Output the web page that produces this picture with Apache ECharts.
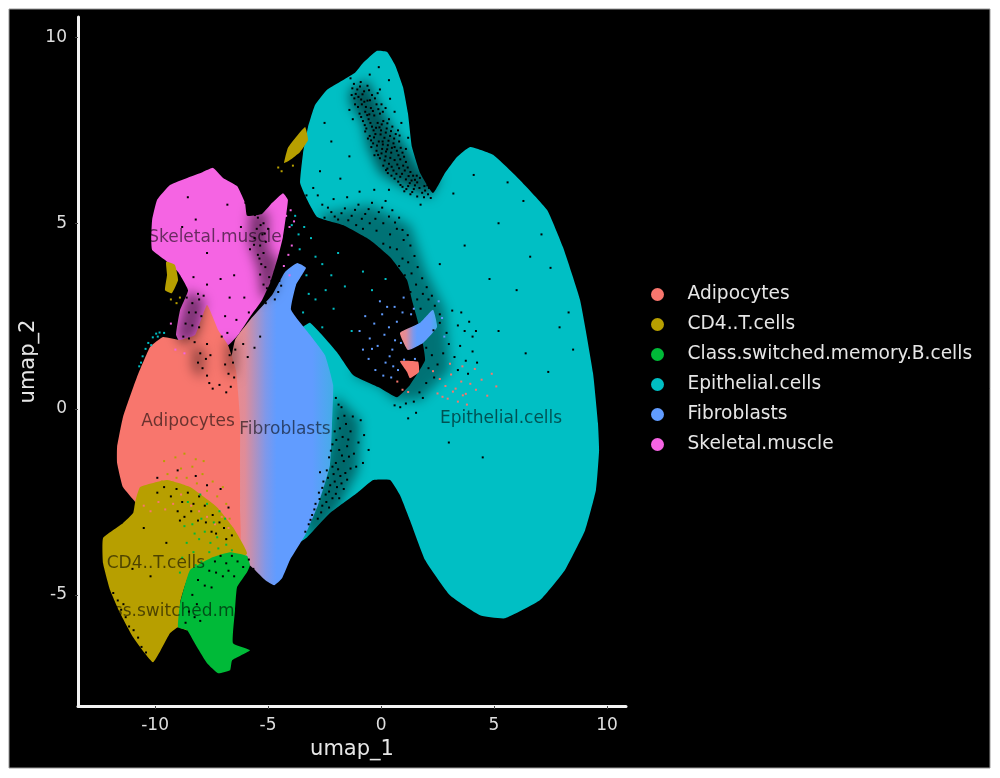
<!DOCTYPE html>
<html>
<head>
<meta charset="utf-8">
<style>
  html, body { margin: 0; background: #fff; }
  #main { width: 1000px; height: 778px; }
</style>
<script src="https://cdn.jsdelivr.net/npm/echarts@6/dist/echarts.min.js"></script>
</head>
<body>
<div id="main"></div>
<script>
const clusterNames = ['Adipocytes', 'CD4..T.cells', 'Class.switched.memory.B.cells', 'Epithelial.cells', 'Fibroblasts', 'Skeletal.muscle'];
const clusterColors = ['#F8766D', '#B79F00', '#00BA38', '#00BFC4', '#619CFF', '#F564E3'];
const xTicks = [-10, -5, 0, 5, 10];
const yTicks = [-5, 0, 5, 10];

// cluster label positions (umap_1, umap_2)
const labelX = [-8.54, -9.96, -7.26, 5.31, -4.25, -7.35];
const labelY = [-0.35, -4.17, -5.46, -0.25, -0.54, 4.61];

// outlines of the dense part of each cluster
const adipocyteOutlines = [
  [[-7.70,2.80],[-7.21,2.13],[-6.77,1.72],[-6.42,1.05],[-6.24,-0.30],[-6.24,-1.64],[-6.24,-2.72],[-6.24,-3.66],[-7.35,-3.53],[-8.45,-2.99],[-9.34,-2.45],[-10.66,-2.72],[-10.88,-2.50],[-11.42,-2.10],[-11.68,-1.45],[-11.68,-1.02],[-11.42,-0.22],[-10.80,0.86],[-10.22,1.67],[-9.65,1.94],[-8.89,1.86],[-8.23,1.99]],
  [[0.84,1.29],[1.64,1.27],[1.68,1.00],[1.28,0.83],[1.15,1.00]]
];
const cd4Outlines = [
  [[-10.88,-2.50],[-10.97,-2.80],[-11.42,-3.07],[-12.30,-3.47],[-12.30,-4.15],[-11.99,-4.87],[-11.55,-5.49],[-10.97,-6.14],[-10.09,-6.81],[-9.34,-6.03],[-8.98,-5.87],[-8.58,-5.95],[-8.89,-5.22],[-8.45,-4.41],[-7.43,-4.25],[-6.68,-4.25],[-5.93,-3.88],[-6.55,-3.18],[-7.26,-2.64],[-8.45,-2.10],[-9.47,-1.91],[-10.66,-2.10]],
  [[-9.51,3.96],[-9.12,3.88],[-8.98,3.47],[-9.25,3.12],[-9.56,3.20],[-9.47,3.61]],
  [[-3.36,7.59],[-3.23,7.24],[-3.58,6.92],[-4.03,6.70],[-4.29,6.62],[-4.12,7.03],[-3.76,7.32]]
];
const bcellOutlines = [
  [[-8.45,-4.33],[-7.43,-3.98],[-6.68,-3.85],[-5.93,-3.95],[-5.80,-4.20],[-5.93,-4.39],[-6.37,-4.79],[-6.46,-5.41],[-6.55,-6.30],[-5.80,-6.49],[-6.59,-6.76],[-6.68,-7.03],[-7.21,-7.11],[-7.70,-6.84],[-8.14,-6.41],[-8.58,-5.95],[-8.98,-5.87],[-8.89,-5.22]]
];
const epithelialOutlines = [
  [[-2.83,5.17],[-3.27,5.63],[-3.58,6.08],[-3.45,6.89],[-3.23,7.59],[-2.92,8.18],[-2.39,8.59],[-1.15,9.05],[-0.80,9.31],[-0.18,9.64],[0.27,9.61],[0.62,9.26],[0.97,8.67],[1.19,7.97],[1.37,7.05],[1.73,6.35],[2.30,5.81],[2.83,6.35],[3.36,6.78],[3.94,7.05],[4.96,6.84],[6.15,6.16],[7.35,5.36],[8.05,4.36],[8.81,2.93],[9.38,0.97],[9.60,-0.38],[9.65,-1.10],[9.51,-2.18],[9.03,-3.26],[8.14,-4.33],[7.04,-5.14],[5.49,-5.63],[4.38,-5.55],[3.05,-5.01],[1.95,-4.06],[1.28,-2.99],[0.84,-2.32],[0.40,-1.91],[-0.35,-1.91],[-1.06,-2.26],[-2.26,-2.80],[-3.27,-3.45],[-3.70,-3.60],[-3.58,2.13],[-3.14,2.32],[-1.95,1.53],[-1.24,0.92],[-0.04,0.57],[0.71,0.32],[1.28,0.65],[1.95,1.32],[1.73,2.13],[1.37,2.93],[1.15,3.47],[0.40,4.09],[-0.49,4.55],[-1.68,4.95]]
];
const fibroblastOutlines = [
  [[-3.71,3.93],[-3.32,3.80],[-3.76,3.34],[-3.98,2.67],[-3.14,1.99],[-2.48,1.45],[-2.12,0.65],[-2.17,-0.43],[-2.26,-1.51],[-2.79,-2.58],[-3.36,-3.39],[-4.03,-4.06],[-4.38,-4.55],[-4.73,-4.74],[-5.13,-4.60],[-5.58,-4.33],[-6.02,-4.06],[-6.37,-3.26],[-6.42,-1.91],[-6.59,-0.57],[-6.77,0.78],[-6.46,1.86],[-5.80,2.40],[-4.82,3.07],[-4.25,3.69]],
  [[2.30,2.67],[1.73,2.32],[0.84,2.05],[1.19,1.59],[1.86,1.78],[2.48,2.21]]
];
const skeletalOutlines = [
  [[-7.43,6.49],[-6.99,6.22],[-6.37,6.00],[-6.02,5.55],[-5.93,5.20],[-5.27,5.25],[-4.82,5.55],[-4.34,5.81],[-4.12,5.63],[-4.34,4.63],[-4.56,4.09],[-4.91,3.39],[-5.27,2.93],[-5.80,2.48],[-6.33,1.99],[-6.77,1.72],[-7.21,2.00],[-7.50,1.90],[-8.23,1.90],[-8.81,1.72],[-9.07,1.99],[-8.89,2.67],[-8.54,3.20],[-8.98,3.69],[-9.56,4.01],[-10.13,4.28],[-10.17,4.60],[-10.13,5.09],[-9.91,5.63],[-9.34,6.03],[-8.58,6.22],[-7.88,6.38]]
];

// zones where only part of the cells are drawn, so the background shows through
const tealSparseZones = [
  { alpha: 0.55, ring: [[-1.37,8.59],[-0.62,8.86],[-0.04,8.13],[0.53,7.51],[1.19,6.97],[1.86,6.35],[2.61,6.25],[2.17,5.71],[0.97,5.98],[-0.04,6.35],[-0.58,7.05],[-0.80,7.70],[-1.37,8.24]] },
  { alpha: 0.4, ring: [[-2.83,5.22],[-0.49,5.49],[1.28,4.95],[1.95,3.74],[2.83,2.67],[3.05,1.05],[1.73,0.24],[0.62,0.24],[-0.04,0.62],[-1.24,0.92],[0.40,3.00]] },
  { alpha: 0.45, ring: [[-2.04,0.38],[-0.93,-0.30],[-1.02,-1.64],[-1.81,-2.58],[-3.14,-3.66],[-3.36,-2.99],[-2.61,-1.91],[-2.17,-0.57]] }
];
const pinkSparseZones = [
  { alpha: 0.5, ring: [[-5.80,5.36],[-5.00,5.30],[-5.00,4.28],[-4.47,3.96],[-4.69,3.20],[-5.27,2.93],[-5.44,3.74],[-5.89,4.55]] },
  { alpha: 0.5, ring: [[-8.54,3.20],[-7.79,2.93],[-8.10,1.99],[-8.81,1.72],[-9.07,1.99]] },
  { alpha: 0.4, ring: [[-8.36,1.72],[-7.79,1.59],[-7.88,0.83],[-8.36,1.05]] },
  { alpha: 0.4, ring: [[-6.86,1.86],[-6.37,1.72],[-6.46,0.83],[-6.86,1.05]] }
];

// stray cells outside the dense outlines
const adipocyteCells = [[2.3,1.02],[2.6,0.81],[2.85,0.62],[3.1,0.93],[3.3,0.55],[3.55,0.74],[3.75,0.41],[3.95,0.68],[4.2,0.52],[4.45,0.79],[4.7,0.36],[2.5,0.42],[2.95,0.28],[3.4,0.2],[3.8,0.12],[0.72,0.74],[0.95,0.52],[1.2,0.46],[4.9,0.95],[5.1,0.61],[3.05,1.22],[3.6,1.15],[4.15,1.08],[2.72,0.33],[3.18,0.47],[3.62,0.37],
  [-10.5,-2.6],[-10.2,-2.75],[-9.85,-2.5],[-9.55,-2.7],[-9.2,-2.55],[-8.85,-2.3],[-8.4,-2.6],[-8.05,-2.75],[-7.7,-2.9],[-7.35,-3.1],[-7.05,-2.9],[-6.75,-3.2]];
const cd4Cells = [[-8.9,3.0],[-9.05,2.85],[-9.3,2.95],[-4.4,6.4],[-4.55,6.5],[-3.9,6.55],
  [-10.4,-2.3],[-10.15,-2.15],[-9.95,-2.4],[-9.7,-1.95],[-9.45,-1.75],[-9.2,-2.15],[-9.05,-1.85],[-8.85,-1.6],[-8.6,-1.85],[-8.35,-1.55],[-8.15,-2.0],[-7.9,-1.75],[-7.7,-2.2],[-7.45,-1.95],[-7.25,-2.35],[-7.0,-2.1],[-6.85,-2.55],[-6.7,-2.95],[-6.5,-3.35],[-9.6,-1.4],[-9.1,-1.3],[-8.7,-1.2],[-8.2,-1.35],[-7.85,-1.4],[-7.55,-2.7],[-7.9,-2.85],[-8.25,-2.4],[-8.6,-2.7],[-9.0,-2.4]];
const bcellCells = [[-8.6,-3.6],[-8.3,-3.85],[-8.05,-3.5],[-7.8,-3.3],[-7.55,-3.6],[-8.7,-3.15],[-8.35,-3.1],[-7.95,-2.95],[-7.7,-2.55],[-7.4,-3.05],[-7.15,-2.75],[-6.9,-2.95],[-8.0,-2.3],[-8.55,-2.5],[-8.25,-3.35],[-7.25,-3.45],[-8.8,-4.0],[-8.9,-4.4],[-7.95,-4.1],[-8.2,-4.2],[-7.6,-3.85],[-7.2,-3.75],[-6.85,-3.65],[-6.6,-3.8]];
const epithelialCells = [[-10.1,1.93],[-9.95,2.03],[-9.8,2.06],[-10.3,1.78],[-10.55,1.42],[-10.7,1.15],[-9.6,2.05],[-10.42,1.62],[-10.17,1.72],[-9.88,1.95],[-10.62,1.25],
  [-3.4,4.9],[-3.1,4.6],[-3.6,4.3],[-2.9,4.1],[-3.3,3.6],[-2.6,3.9],[-2.2,3.6],[-1.9,4.2],[-2.45,3.2],[-2.9,2.95],[-1.6,3.3],[-2.1,2.7],[-1.3,2.1],[-0.8,3.7],[-0.4,3.2],[0.2,3.5],[-2.6,2.2],[-3.45,2.6],[-3.2,3.1],[-3.65,4.7],[-3.8,5.2],[-3.95,4.95]];
const fibroblastCells = [[-0.95,2.1],[-0.7,2.5],[-0.5,1.9],[-0.3,2.3],[-0.55,1.35],[-0.15,1.7],[0.05,2.55],[0.2,1.25],[0.35,2.2],[0.5,1.6],[0.6,2.75],[0.75,1.05],[0.95,2.6],[-0.25,1.05],[0.1,0.9],[0.45,0.85],[1.45,2.7],[2.55,2.9],[2.7,2.45],[2.8,1.95],[1.0,3.0],[-0.8,1.6],[-0.05,2.9],[1.5,1.35],
  [0.62,1.85],[0.38,1.42],[0.7,2.35],[0.15,2.0],[-0.4,1.62],[1.02,1.33],[0.88,1.78],[1.33,2.55],[0.54,1.15],[0.27,2.75]];
const skeletalCells = [[-4.2,5.2],[-4.05,4.9],[-3.95,4.4],[-4.1,4.15],[-4.3,3.85],[-4.05,3.6],[-9.1,1.6],[-8.7,1.5],[-9.3,2.3],[-4.0,5.35],[-3.85,5.05]];

// cells missing inside the outlines, where the black background shows through
const gapCells = [
  // streak down the top lobe
  [-1.2,8.75],[-1.05,8.6],[-0.9,8.8],[-1.3,8.45],[-1.0,8.4],[-0.75,8.55],[-0.6,8.7],[-1.15,8.2],[-0.85,8.2],[-0.6,8.3],[-0.4,8.45],[-0.95,7.95],[-0.7,8.0],[-0.45,8.1],[-0.2,8.2],[-0.8,7.75],[-0.55,7.8],[-0.3,7.9],[-0.05,7.95],[0.2,8.1],
  [-0.65,7.55],[-0.4,7.6],[-0.15,7.7],[0.1,7.75],[0.35,7.8],[-0.5,7.35],[-0.25,7.4],[0,7.5],[0.25,7.55],[0.5,7.6],[-0.35,7.15],[-0.1,7.2],[0.15,7.3],[0.4,7.35],[0.65,7.4],[-0.2,6.95],[0.05,7.0],[0.3,7.1],[0.55,7.15],[0.8,7.2],
  [-0.05,6.75],[0.2,6.8],[0.45,6.9],[0.7,6.95],[0.95,6.9],[0.1,6.55],[0.35,6.6],[0.6,6.7],[0.85,6.72],[1.1,6.65],[0.3,6.35],[0.55,6.42],[0.8,6.48],[1.05,6.42],[1.3,6.38],[0.6,6.2],[0.85,6.25],[1.1,6.18],[1.35,6.15],[1.6,6.1],[0.95,5.98],[1.2,6.0],[1.45,5.92],[1.7,5.95],[1.95,5.88],[1.3,5.78],[1.6,5.72],[1.9,5.7],[2.2,5.68],[1.75,5.5],
  [-1.35,8.9],[-0.5,9.0],[-0.05,8.6],[0.4,8.35],[0.6,8.0],[-0.1,9.2],[0.35,8.85],[0.75,7.5],[0.9,7.7],[1.1,7.0],[1.2,7.3],[0.02,8.2],[-0.15,8.5],[-1.4,8.05],[-1.25,7.8],
  [-1.12,8.48],[-0.88,8.33],[-0.67,8.13],[-0.52,7.93],[-0.72,7.64],[-0.33,7.5],[-0.44,7.23],[-0.07,7.58],[0.08,7.12],[-0.13,6.84],[0.22,6.93],[0.48,7.03],[0.28,6.47],[0.72,6.58],[0.46,6.28],[0.98,6.55],[0.76,6.12],[1.22,6.27],[1.03,5.86],[1.5,6.02],[1.82,5.82],[2.05,6.02],[1.58,6.28],[2.12,5.95],
  [-1.27,8.63],[-0.93,8.68],[-1.18,8.36],[-0.82,8.47],[-0.53,8.58],[-1.02,8.13],[-0.74,8.27],[-0.49,8.31],[-0.27,8.36],[-0.88,7.86],[-0.61,7.91],[-0.36,8.02],[-0.12,8.07],[0.08,8.0],[-0.7,7.47],[-0.47,7.7],[-0.22,7.57],[0.03,7.66],[0.28,7.69],[-0.58,7.28],[-0.31,7.31],[-0.02,7.39],[0.21,7.44],[0.44,7.48],[-0.43,7.05],[-0.18,7.09],[0.07,7.2],[0.33,7.22],[0.58,7.28],[0.82,7.36],
  [-0.29,6.83],[0.02,6.88],[0.27,6.99],[0.6,7.05],[0.87,7.03],[0.16,6.69],[0.41,6.76],[0.77,6.83],[1.02,6.79],[0.22,6.43],[0.47,6.52],[0.93,6.33],[1.18,6.5],[1.42,6.28],[0.68,6.33],[1.27,6.08],[1.5,6.17],[1.72,6.22],[0.86,6.03],[1.12,5.92],[1.38,5.84],[1.92,6.0],[2.08,5.78],
  // sparse band over the hole
  [-2.5,5.15],[-2.2,5.3],[-1.9,5.1],[-1.6,5.4],[-1.3,5.2],[-1.0,5.5],[-0.7,5.25],[-0.4,5.55],[-0.1,5.3],[0.2,5.6],[0.5,5.35],[0.8,5.15],[-1.1,4.95],[-0.8,4.85],[-0.5,5.0],[-0.2,4.8],[0.1,5.0],[0.4,4.7],[0.7,4.85],[1.0,4.55],
  [0.1,4.45],[0.4,4.35],[0.7,4.3],[0.95,4.05],[1.2,3.95],[0.8,3.85],[1.05,3.6],[1.35,3.65],[1.55,3.35],[1.3,3.15],[1.6,2.95],[1.85,3.1],[2.1,2.95],[1.75,2.7],[-2.6,5.5],[-2.1,5.65],[-1.5,5.7],[-0.95,5.85],[-0.3,5.9],[0.35,5.9],
  [-2.35,5.42],[-2.05,5.18],[-1.75,5.27],[-1.45,5.08],[-1.15,5.36],[-0.85,5.12],[-0.55,5.38],[-0.25,5.12],[0.05,5.42],[0.35,5.18],[0.62,5.02],[0.95,4.82],[1.18,4.68],[1.3,4.4],[1.48,4.12],[1.62,3.82],[1.82,3.52],[2.02,3.28],[2.25,3.05],[2.38,2.78],[2.6,2.32],[2.32,2.12],
  // right of the hole
  [2.0,1.65],[2.25,1.45],[2.1,1.1],[2.5,1.2],[2.35,0.85],[2.75,1.5],[3.0,1.75],[3.25,1.4],[3.5,1.7],[3.75,1.3],[3.4,1.05],[3.85,0.95],[4.05,1.55],[4.25,1.25],[4.05,1.95],[3.7,2.1],[3.4,2.25],[3.9,2.35],[3.55,2.6],[4.2,2.1],[2.9,2.05],[2.6,2.55],[3.15,2.65],
  [1.7,0.45],[1.45,0.2],[1.1,0.15],[0.85,0.05],[1.55,-0.1],[1.2,-0.25],[0.6,0.1],[2.0,0.7],[1.85,0.3],
  // between fibroblasts and epithelial
  [-2.0,0.3],[-1.75,0.05],[-1.9,-0.25],[-1.55,-0.4],[-2.05,-0.6],[-1.7,-0.75],[-1.35,-0.6],[-2.15,-0.95],[-1.85,-1.1],[-1.5,-1.0],[-1.2,-1.2],[-2.3,-1.3],[-2.0,-1.45],[-1.65,-1.4],[-1.35,-1.6],[-2.4,-1.65],[-2.1,-1.75],[-1.8,-1.8],[-1.5,-1.9],[-2.55,-1.95],[-2.25,-2.05],[-1.95,-2.1],[-1.65,-2.15],[-2.75,-2.25],[-2.45,-2.3],[-2.15,-2.4],[-1.85,-2.4],[-2.9,-2.55],[-2.6,-2.6],[-2.3,-2.65],[-3.05,-2.85],[-2.8,-2.95],[-1.0,-0.9],[-0.75,-0.7],[-0.55,-1.1],[-1.1,-1.55],[-0.8,-1.45],[-1.25,-0.2],[-0.9,-0.3],[-2.7,-1.7],[-3.2,-3.1],[-3.35,-3.3],
  [-1.88,0.12],[-1.62,-0.18],[-1.82,-0.52],[-1.45,-0.82],[-1.98,-0.83],[-2.22,-1.12],[-1.73,-1.25],[-1.42,-1.28],[-2.15,-1.55],[-1.9,-1.62],[-1.58,-1.72],[-2.35,-1.85],[-2.05,-1.95],[-1.75,-2.0],[-2.6,-2.12],[-2.3,-2.22],[-2.0,-2.28],[-2.72,-2.42],[-2.42,-2.5],[-2.95,-2.7],[-2.65,-2.78],[-3.12,-2.98],
  // scattered over the right lobe
  [3.2,5.8],[4.1,6.3],[5.6,6.1],[6.3,5.6],[5.2,5.0],[7.1,4.7],[7.5,3.8],[6.6,4.1],[6.0,3.2],[3.7,4.4],[2.6,3.9],[4.8,3.5],[7.9,2.2],[8.3,2.6],[8.5,1.6],[6.4,1.5],[7.4,1.0],[5.2,2.1],[4.5,-1.3],[3.0,-0.9],[-2.7,6.4],[-2.2,7.2],[-2.5,7.7],[-1.8,6.2],[-1.4,6.8],[-3.0,5.95],[-3.3,5.75],[-2.8,5.75],
  // skeletal muscle gaps
  [-5.7,5.35],[-5.45,5.15],[-5.2,5.0],[-5.5,4.85],[-5.25,4.7],[-5.0,4.85],[-5.6,4.6],[-5.35,4.4],[-5.1,4.5],[-5.45,4.15],[-5.2,4.2],[-5.3,3.9],[-4.95,3.55],[-4.7,3.7],[-4.5,3.45],[-4.8,3.3],[-4.55,3.15],[-4.95,3.1],[-5.2,3.35],[-4.7,2.95],[-5.1,2.85],[-6.2,4.9],[-6.8,5.5],[-7.7,4.2],[-8.2,5.1],[-6.5,3.6],[-6.05,3.0],[-6.7,3.0],[-7.1,3.5],[-7.7,3.35],[-8.1,3.1],[-6.4,2.4],[-5.85,2.6],[-6.9,2.5],[-8.3,3.55],[-8.8,4.9],[-6.0,5.55],[-5.8,4.3],[-8.55,5.7],
  [-5.58,5.22],[-5.33,4.95],[-5.62,4.42],[-5.15,4.72],[-5.38,4.05],[-5.12,3.82],[-4.85,3.45],[-4.62,3.58],[-5.05,3.25],[-4.42,3.32],[-5.35,3.62],
  // neck under the muscle cluster
  [-8.6,3.0],[-8.35,2.85],[-8.05,2.95],[-7.85,3.05],[-8.5,2.6],[-8.2,2.6],[-7.95,2.5],[-8.65,2.3],[-8.35,2.25],[-8.05,2.2],[-8.75,1.95],[-8.5,1.9],[-8.25,1.8],[-8.0,1.5],[-7.75,1.35],[-7.9,1.1],[-7.7,0.9],[-8.1,1.25],[-7.55,1.45],[-7.45,0.55],[-7.6,0.7],[-6.7,1.45],[-6.55,1.25],[-6.75,0.95],[-6.5,0.85],[-6.65,0.6],[-6.9,1.2],[-7.15,0.65],[-6.85,0.45],[-6.45,1.6],[-7.7,1.75],[-7.05,1.95],[-6.8,2.05],[-6.1,1.75],[-5.9,1.4],[-5.6,1.65],[-5.35,1.95],
  // above the T cells
  [-9.9,-2.25],[-9.6,-2.1],[-9.3,-2.35],[-9.05,-2.15],[-8.8,-2.5],[-8.55,-2.25],[-8.3,-2.55],[-8.05,-2.35],[-7.8,-2.6],[-9.0,-2.75],[-8.7,-2.9],[-8.4,-2.75],[-8.1,-3.0],[-7.75,-3.05],[-7.45,-2.85],[-7.15,-3.05],[-6.95,-3.2],[-7.3,-3.35],[-6.85,-3.5],[-6.6,-3.4],[-7.5,-3.3],[-8.9,-3.0],[-9.9,-1.85],[-9.0,-1.65],[-8.2,-1.8],[-7.7,-2.05],[-7.1,-2.15],[-6.75,-2.65],
  // class switched B cells
  [-7.35,-4.1],[-7.1,-3.95],[-6.85,-4.15],[-6.6,-3.95],[-6.35,-4.1],[-7.6,-4.35],[-7.3,-4.4],[-7.0,-4.5],[-6.75,-4.35],[-6.5,-4.5],[-8.1,-4.6],[-7.8,-4.75],[-7.5,-4.8],[-8.35,-5.0],[-8.15,-5.25],[-8.5,-5.45],[-8.25,-5.6],[-8.65,-5.75],[-8.0,-5.7],[-6.1,-4.25],[-5.85,-4.05],[-5.65,-4.3],
  // lower left edge of the T cells
  [-11.85,-4.95],[-11.65,-5.15],[-11.5,-5.4],[-11.3,-5.6],[-11.15,-5.85],[-10.95,-5.95],[-10.75,-6.15],[-10.6,-6.4],[-11.4,-5.25],[-10.4,-6.55],[-11.0,-4.3],[-10.2,-4.5],[-9.5,-3.6],[-10.5,-3.2]
];

const chart = echarts.init(document.getElementById('main'), null, { renderer: 'canvas' });

function outlineSeries(name, rings, fill) {
  return {
    name: name,
    type: 'custom',
    coordinateSystem: 'cartesian2d',
    itemStyle: { color: clusterColors[clusterNames.indexOf(name)] },
    data: rings.map((r, i) => [i]),
    silent: true,
    renderItem: function (params, api) {
      return {
        type: 'polygon',
        shape: { points: rings[api.value(0)].map(p => api.coord(p)), smooth: 0.12 },
        style: { fill: fill || clusterColors[clusterNames.indexOf(name)] }
      };
    }
  };
}

// only the blurred shadow of the zone lands on the plot, the shape itself sits off to the left
const shadowShift = 3000;
function sparseSeries(name, zones) {
  return {
    name: name,
    type: 'custom',
    coordinateSystem: 'cartesian2d',
    data: zones.map((z, i) => [i]),
    silent: true,
    renderItem: function (params, api) {
      const zone = zones[api.value(0)];
      return {
        type: 'polygon',
        shape: {
          points: zone.ring.map(p => {
            const c = api.coord(p);
            return [c[0] - shadowShift, c[1]];
          })
        },
        style: {
          fill: '#000',
          shadowBlur: 12,
          shadowColor: 'rgba(0,0,0,' + zone.alpha + ')',
          shadowOffsetX: shadowShift * (window.devicePixelRatio || 1)
        }
      };
    }
  };
}

function cellSeries(name, cells, color) {
  return {
    name: name,
    type: 'scatter',
    symbol: 'rect',
    symbolSize: 2,
    silent: true,
    itemStyle: { color: color, opacity: 1 },
    data: cells
  };
}

// fibroblasts fade into adipocytes on the left and epithelial cells on the right
const fibroblastFill = new echarts.graphic.LinearGradient(0, 0, 1, 0, [
  { offset: 0, color: '#F08A88' },
  { offset: 0.16, color: '#E08C98' },
  { offset: 0.36, color: '#7E98EA' },
  { offset: 0.46, color: '#619CFF' },
  { offset: 0.8, color: '#619CFF' },
  { offset: 1, color: '#45ACE8' }
]);

var option = {
  animation: false,
  graphic: [{
    type: 'rect',
    z: -10,
    shape: { x: 9, y: 9, width: 981, height: 759 },
    style: { fill: '#000', stroke: '#999', lineWidth: 1 },
    silent: true
  }],
  grid: { left: 78, right: 374, top: 17, bottom: 72 },
  legend: {
    orient: 'vertical',
    left: 646,
    top: 279,
    data: clusterNames,
    icon: 'circle',
    itemWidth: 50,
    itemHeight: 13,
    itemGap: 9,
    textStyle: { color: '#e6e6e6', fontFamily: 'DejaVu Sans', fontSize: 18.6, lineHeight: 21 }
  },
  xAxis: {
    type: 'value',
    min: -13.41,
    max: 10.84,
    name: 'umap_1',
    nameLocation: 'middle',
    nameGap: 33,
    nameTextStyle: { color: '#e6e6e6', fontFamily: 'DejaVu Sans', fontSize: 21 },
    axisLine: { onZero: false, lineStyle: { color: '#f2f2f2', width: 3 } },
    axisTick: { customValues: xTicks, length: 3, lineStyle: { color: '#444', width: 1 } },
    axisLabel: { customValues: xTicks, color: '#dedede', fontFamily: 'DejaVu Sans', fontSize: 17, margin: 11 },
    splitLine: { show: false }
  },
  yAxis: {
    type: 'value',
    min: -7.99,
    max: 10.55,
    name: 'umap_2',
    nameLocation: 'middle',
    nameGap: 39,
    nameMoveOverlap: false,
    nameTextStyle: { color: '#e6e6e6', fontFamily: 'DejaVu Sans', fontSize: 21 },
    axisLine: { onZero: false, lineStyle: { color: '#f2f2f2', width: 3 } },
    axisTick: { customValues: yTicks, length: 3, lineStyle: { color: '#444', width: 1 } },
    axisLabel: { customValues: yTicks, color: '#dedede', fontFamily: 'DejaVu Sans', fontSize: 17, margin: 11 },
    splitLine: { show: false }
  },
  series: [
    outlineSeries('Epithelial.cells', epithelialOutlines),
    sparseSeries('teal sparse zones', tealSparseZones),
    outlineSeries('Fibroblasts', fibroblastOutlines, fibroblastFill),
    outlineSeries('Skeletal.muscle', skeletalOutlines),
    outlineSeries('Adipocytes', adipocyteOutlines),
    outlineSeries('CD4..T.cells', cd4Outlines),
    outlineSeries('Class.switched.memory.B.cells', bcellOutlines),
    sparseSeries('pink sparse zones', pinkSparseZones),
    cellSeries('gaps', gapCells, '#000'),
    cellSeries('Epithelial.cells', epithelialCells, clusterColors[3]),
    cellSeries('Fibroblasts', fibroblastCells, clusterColors[4]),
    cellSeries('Adipocytes', adipocyteCells, clusterColors[0]),
    cellSeries('CD4..T.cells', cd4Cells, clusterColors[1]),
    cellSeries('Class.switched.memory.B.cells', bcellCells, clusterColors[2]),
    cellSeries('Skeletal.muscle', skeletalCells, clusterColors[5]),
    {
      name: 'cluster labels',
      type: 'scatter',
      symbolSize: 0,
      silent: true,
      z: 10,
      data: clusterNames.map((n, i) => ({ name: n, value: [labelX[i], labelY[i]] })),
      label: {
        show: true,
        position: 'inside',
        formatter: '{b}',
        color: 'rgba(0,0,0,0.72)',
        fontFamily: 'DejaVu Sans',
        fontSize: 17
      }
    }
  ]
};

chart.setOption(option);
</script>
</body>
</html>
